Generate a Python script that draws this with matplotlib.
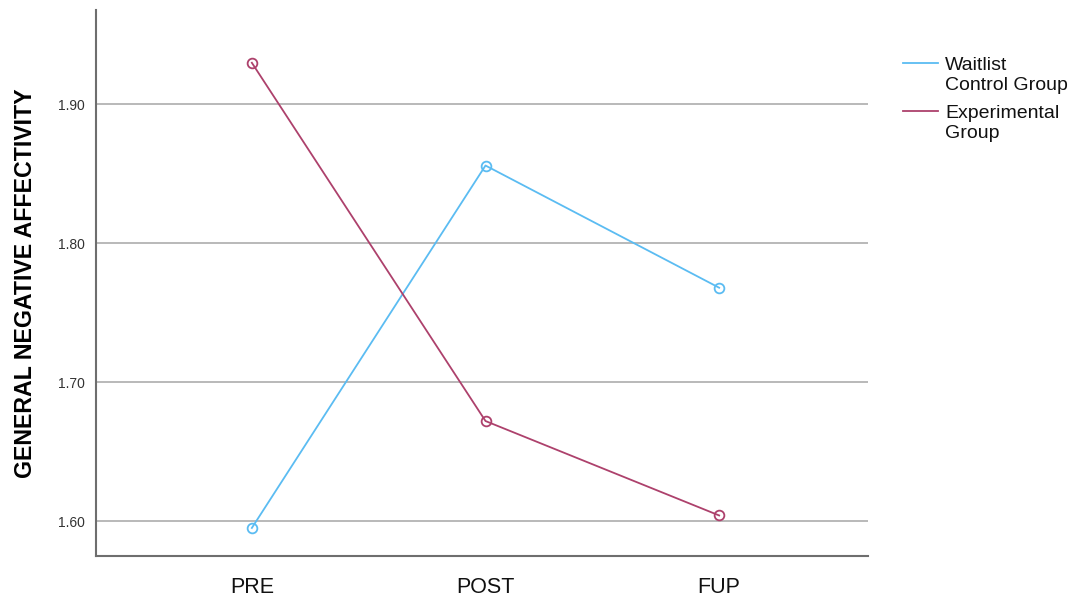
import matplotlib
matplotlib.use("Agg")
import matplotlib.pyplot as plt
from matplotlib.legend_handler import HandlerLine2D
from matplotlib.lines import Line2D

plt.rcParams['font.family'] = ['Liberation Sans', 'DejaVu Sans']

categories = ["PRE", "POST", "FUP"]
waitlist = [1.595, 1.856, 1.768]
experimental = [1.930, 1.672, 1.604]
yticks = [1.60, 1.70, 1.80, 1.90]
series_names = ["Waitlist\nControl Group", "Experimental\nGroup"]

blue = '#5bbcf2'
red = '#ad416c'


class TopLineHandler(HandlerLine2D):
    """Place the legend line next to the first text line."""
    def __init__(self, offset=7.0, **kw):
        super().__init__(**kw)
        self.offset = offset

    def create_artists(self, legend, orig_handle, xdescent, ydescent, width,
                       height, fontsize, trans):
        arts = super().create_artists(legend, orig_handle, xdescent, ydescent,
                                      width, height, fontsize, trans)
        for a in arts:
            if isinstance(a, Line2D):
                a.set_ydata([y + self.offset for y in a.get_ydata()])
                a.set_marker('')
        return arts


fig = plt.figure(figsize=(10.72, 5.96), dpi=100)
ax = fig.add_axes([96/1072, 1-556/596, (868-96)/1072, (556-10)/596])

x = list(range(len(categories)))
l1, = ax.plot(x, waitlist, color=blue, lw=1.3, marker='o', ms=7, mfc='none', mew=1.3,
              label=series_names[0], zorder=3)
l2, = ax.plot(x, experimental, color=red, lw=1.3, marker='o', ms=7, mfc='none', mew=1.3,
              label=series_names[1], zorder=3)

ax.set_xlim(-0.667, 2.637)
ax.set_ylim(1.5748, 1.968)
ax.set_xticks(x)
ax.set_xticklabels(categories, fontsize=15.5, color='#111111')
ax.set_yticks(yticks)
ax.set_yticklabels([f"{v:.2f}" for v in yticks], fontsize=10, color='#333333')
ax.tick_params(axis='both', length=0)
ax.tick_params(axis='x', pad=15)
ax.tick_params(axis='y', pad=8)
ax.grid(axis='y', color='#b3b3b3', lw=1.3, zorder=1)
ax.set_axisbelow(True)
for s in ['top', 'right']:
    ax.spines[s].set_visible(False)
for s in ['left', 'bottom']:
    ax.spines[s].set_color('#6e6e6e')
    ax.spines[s].set_linewidth(1.5)

ax.set_ylabel("GENERAL NEGATIVE AFFECTIVITY", fontsize=16.7, fontweight='bold', labelpad=15)

leg = fig.legend(handles=[l1, l2], loc='upper left', bbox_to_anchor=(903/1072, 1-57/596),
                 frameon=False, fontsize=14, handlelength=1.8, handletextpad=0.36,
                 labelspacing=0.6, borderpad=0, borderaxespad=0,
                 handler_map={Line2D: TopLineHandler(offset=8.6)})
for t in leg.get_texts():
    t.set_color('#111111')

fig.savefig('out.png', dpi=100)
